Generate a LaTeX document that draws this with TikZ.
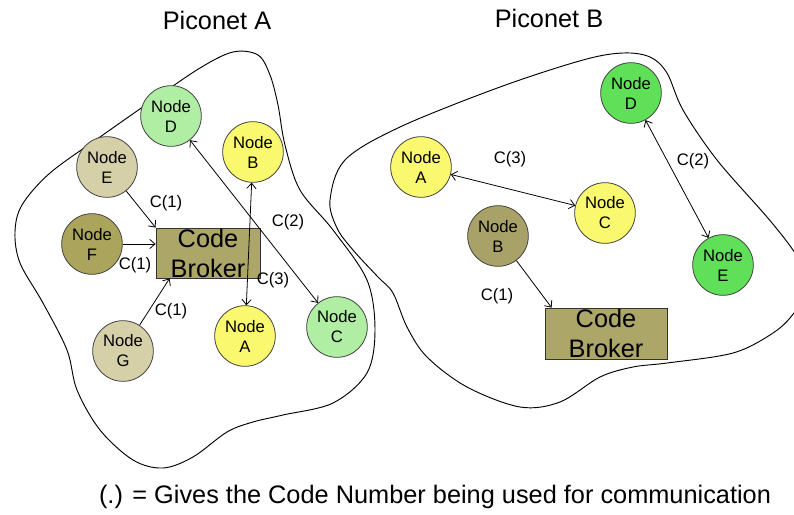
\documentclass[tikz,border=0pt]{standalone}
\usepackage{fontspec}
\setmainfont{Liberation Sans}
\usetikzlibrary{arrows.meta,calc}

\definecolor{palegreen}{RGB}{176,238,164}
\definecolor{deepgreen}{RGB}{96,224,88}
\definecolor{sunyellow}{RGB}{250,248,110}
\definecolor{paleolive}{RGB}{214,208,168}
\definecolor{darkolive}{RGB}{170,164,92}
\definecolor{midolive}{RGB}{168,162,104}
\definecolor{brokerfill}{RGB}{172,166,104}

\begin{document}
\begin{tikzpicture}[x=0.75pt,y=-0.75pt,
  station/.style={circle, draw=black!75, line width=0.6pt, minimum size=45.5pt,
    inner sep=0pt, align=center, font=\fontsize{12.5}{15}\selectfont},
  broker/.style={rectangle, draw=black!80, line width=0.6pt, fill=brokerfill,
    inner sep=0pt, align=center, font=\fontsize{19}{22.5}\selectfont},
  tip/.tip={Straight Barb[length=4pt,width=7pt]},
  link/.style={line width=0.6pt, -tip},
  dlink/.style={line width=0.6pt, tip-tip},
  code/.style={font=\fontsize{12.5}{15}\selectfont, inner sep=0pt},
  heading/.style={font=\fontsize{19}{22}\selectfont, inner sep=0pt},
  cloud/.style={line width=0.7pt}
]
\useasboundingbox (0,0) rectangle (794,515);
\clip (0,0) rectangle (794,515);

% piconet outlines
\draw[cloud] plot[smooth cycle, tension=0.55] coordinates {
  (233,52) (258,55) (270,75) (278,105) (285,145) (300,190) (333,230)
  (367,280) (375,330) (367,373) (333,403) (283,415) (253,422) (227,432)
  (193,457) (163,468) (133,460) (100,430) (77,390) (67,350) (43,303)
  (20,263) (15,232) (22,205) (50,173) (100,137) (150,102) (200,68)};
\draw[cloud] plot[smooth cycle, tension=0.55] coordinates {
  (623,53) (650,57) (667,73) (683,110) (717,160) (767,217) (793,250)
  (812,282) (794,313) (773,333) (733,353) (667,363) (633,367) (600,377)
  (560,402) (520,407) (467,387) (427,357) (407,327) (393,293) (378,277)
  (353,250) (337,228) (330,200) (345,160) (400,127) (500,87) (583,60)};

% headings
\node[heading] (titleA) at (217,20) {Piconet A};
\node[heading] (titleB) at (549,18) {Piconet B};
\node[heading] (legend) at (435,497) {(.) = Gives the Code Number being used for communication};

% piconet A
\node[station, fill=palegreen] (aD) at (171,116) {Node\\D};
\node[station, fill=sunyellow] (aB) at (253,152) {Node\\B};
\node[station, fill=paleolive] (aE) at (107,167) {Node\\E};
\node[station, fill=darkolive] (aF) at (92,244) {Node\\F};
\node[station, fill=paleolive] (aG) at (123,351) {Node\\G};
\node[station, fill=sunyellow] (aA) at (245,336) {Node\\A};
\node[station, fill=palegreen] (aC) at (337,327) {Node\\C};
\node[broker, minimum width=78pt, minimum height=37.5pt] (aK) at (208,253) {Code\\Broker};

\draw[link] (aE) -- (aK.north west);
\draw[link] (aF) -- (aF -| aK.west);
\draw[link] (aG) -- ($(aK.south west)+(14,0)$);
\draw[dlink] (aB) -- (aA);
\draw[dlink] (aD) -- (aC);

\node[code] (aL1) at (166,203) {C(1)};
\node[code] (aL2) at (135,265) {C(1)};
\node[code] (aL3) at (171,311) {C(1)};
\node[code] (aL4) at (273,280) {C(3)};
\node[code] (aL5) at (288,222) {C(2)};

% piconet B
\node[station, fill=deepgreen] (bD) at (631,93) {Node\\D};
\node[station, fill=sunyellow] (bA) at (421,167) {Node\\A};
\node[station, fill=sunyellow] (bC) at (605,213) {Node\\C};
\node[station, fill=midolive] (bB) at (498,236) {Node\\B};
\node[station, fill=deepgreen] (bE) at (723,265) {Node\\E};
\node[broker, minimum width=91.5pt, minimum height=38.25pt] (bK) at (606,333.5) {Code\\Broker};

\draw[dlink] (bA) -- (bC);
\draw[dlink] (bD) -- (bE);
\draw[link] (bB) -- ($(bK.north west)+(7,0)$);

\node[code] (bL1) at (510,159) {C(3)};
\node[code] (bL2) at (693,161) {C(2)};
\node[code] (bL3) at (497,296) {C(1)};
\end{tikzpicture}
\end{document}
